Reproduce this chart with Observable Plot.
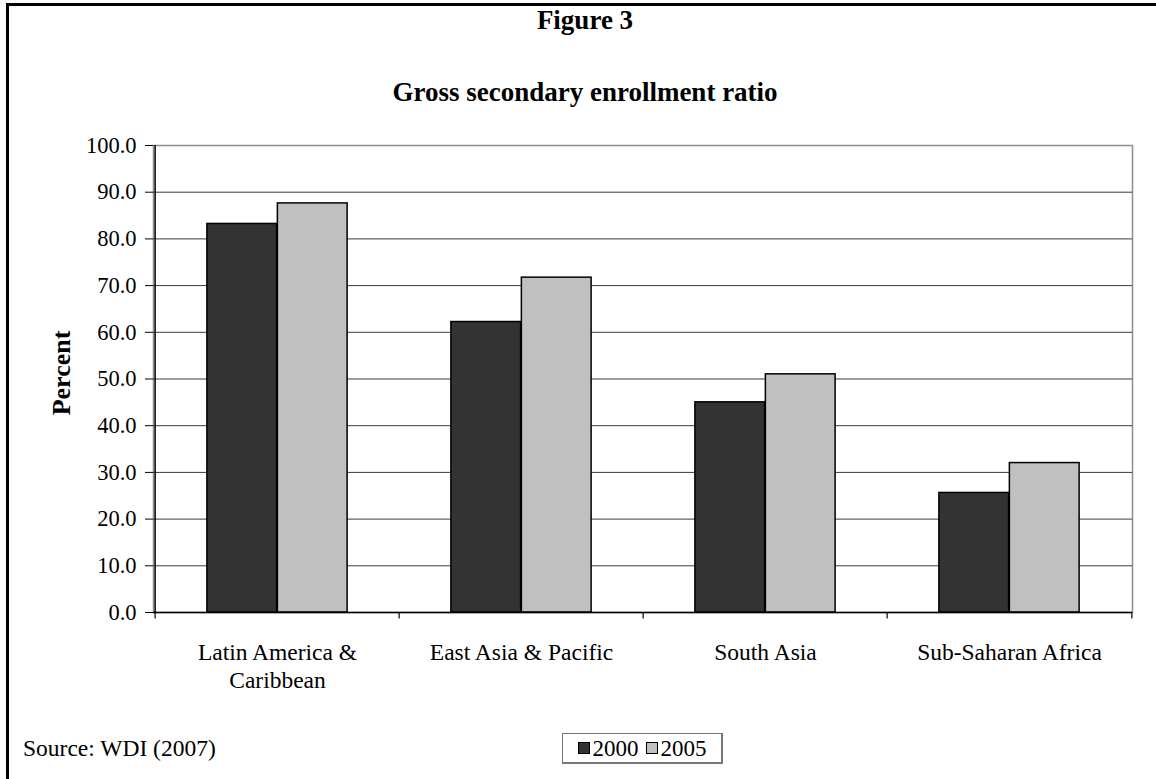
<!DOCTYPE html>
<html>
<head>
<meta charset="utf-8">
<script src="https://cdn.jsdelivr.net/npm/d3@7"></script>
<script src="https://cdn.jsdelivr.net/npm/@observablehq/plot@0.6"></script>
<style>
  html, body { margin: 0; padding: 0; background: #fff; }
  body { width: 1156px; height: 779px; overflow: hidden; position: relative;
         font-family: "Liberation Serif", "Times New Roman", serif; color: #000; }
  #frame { position: absolute; left: 6px; top: 3px; width: 1160px; height: 790px;
           border-left: 3px solid #000; border-top: 3px solid #000; }
  .title { position: absolute; left: 0; width: 1170px; text-align: center; font-weight: bold;
           font-size: 27px; line-height: 27px; }
  #ylabel { position: absolute; left: 62px; top: 373px; font-weight: bold; font-size: 26px;
            transform: translate(-50%, -50%) rotate(-90deg); white-space: nowrap; line-height: 26px; }
  #chart { position: absolute; left: 0; top: 0; }
  #source { position: absolute; left: 23px; top: 737px; font-size: 23.5px; line-height: 23.5px; }
  #legend { position: absolute; left: 562px; top: 733px; width: 158px; height: 28px;
            border: 1px solid #777; border-right-width: 2px; border-bottom-width: 2px;
            display: flex; align-items: center; justify-content: center; gap: 7px; font-size: 23px; line-height: 23px; }
  .item { display: flex; align-items: center; gap: 3px; }
  .sw { width: 10px; height: 10px; border: 1px solid #000; }
</style>
</head>
<body>
<div id="frame"></div>
<div id="chart"></div>
<div class="title" id="t1" style="top:7px">Figure 3</div>
<div class="title" id="t2" style="top:79px">Gross secondary enrollment ratio</div>
<div id="ylabel">Percent</div>
<div id="source">Source: WDI (2007)</div>
<div id="legend"></div>
<script>
const categories = ["Latin America & Caribbean", "East Asia & Pacific", "South Asia", "Sub-Saharan Africa"];
const categoryLabels = ["Latin America &\nCaribbean", "East Asia & Pacific", "South Asia", "Sub-Saharan Africa"];
const years = ["2000", "2005"];
const values2000 = [83.2, 62.2, 45.0, 25.6];
const values2005 = [87.6, 71.7, 51.0, 32.0];
const yTicks = [0, 10, 20, 30, 40, 50, 60, 70, 80, 90, 100];
const colors = ["#333333", "#c0c0c0"];

const rows = categories.flatMap((c, i) => [
  {category: c, year: years[0], value: values2000[i]},
  {category: c, year: years[1], value: values2005[i]}
]);

const W = 1156, H = 705, ML = 153, MR = 24, MT = 145, MB = 93;
const bw = (W - ML - MR) / categories.length;
const gap = bw * 0.212;

const chart = Plot.plot({
  width: W, height: H,
  marginLeft: ML, marginRight: MR, marginTop: MT, marginBottom: MB,
  style: {fontFamily: "'Liberation Serif', 'Times New Roman', serif", fontSize: "22px", color: "black", background: "transparent", overflow: "visible"},
  x: {domain: categories, padding: 0, axis: null},
  y: {domain: [0, 100], axis: null},
  marks: [
    Plot.frame({stroke: "#8c8c8c", strokeWidth: 1.5}),
    Plot.ruleY(yTicks.filter(t => t > 0 && t < 100), {stroke: "#3a3a3a", strokeWidth: 1}),
    Plot.barY(rows.filter(d => d.year === years[0]), {x: "category", y: "value", fill: colors[0], stroke: "black", strokeWidth: 1.5, insetLeft: gap, insetRight: bw / 2}),
    Plot.barY(rows.filter(d => d.year === years[1]), {x: "category", y: "value", fill: colors[1], stroke: "black", strokeWidth: 1.5, insetLeft: bw / 2, insetRight: gap}),
    Plot.ruleY([0], {stroke: "black", strokeWidth: 1.5}),
    Plot.ruleX([categories[0]], {x: d => d, dx: -bw / 2, y1: 0, y2: 100, stroke: "black", strokeWidth: 1.5}),
    Plot.ruleX(categories, {x: d => d, dx: -bw / 2, y1: 0, y2: -1.4, stroke: "black", strokeWidth: 1.2}),
    Plot.ruleX([categories[categories.length - 1]], {x: d => d, dx: bw / 2, y1: 0, y2: -1.4, stroke: "black", strokeWidth: 1.2}),
    Plot.axisY({ticks: yTicks, tickFormat: d3.format(".1f"), tickSize: 8, tickPadding: 9, fontSize: 22.5, anchor: "left", label: null, stroke: "black", fill: "black"}),
    Plot.text(categories, {x: d => d, y: 0, text: (d, i) => categoryLabels[i], dy: 28, lineAnchor: "top", lineHeight: 1.19, fontSize: 23.5, fill: "black"})
  ]
});
document.getElementById("chart").appendChild(chart);

const legend = d3.select("#legend");
years.forEach((y, i) => {
  const item = legend.append("div").attr("class", "item");
  item.append("div").attr("class", "sw").style("background", colors[i]);
  item.append("span").text(y);
});
</script>
</body>
</html>
